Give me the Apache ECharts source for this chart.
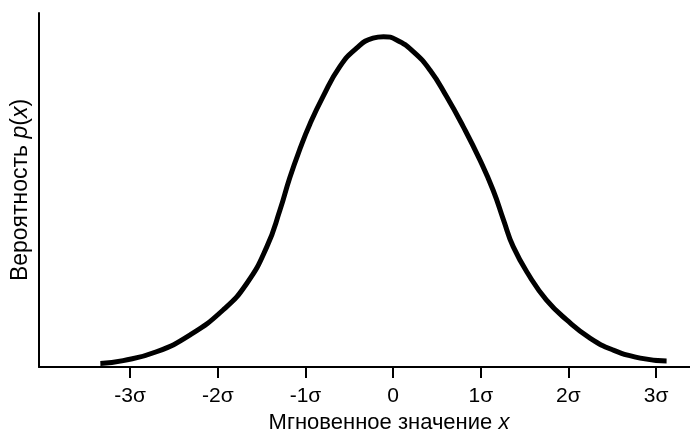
<!DOCTYPE html>
<html>
<head>
<meta charset="utf-8">
<script src="https://cdn.jsdelivr.net/npm/echarts@6/dist/echarts.min.js"></script>
<style>
html,body{margin:0;padding:0;background:#fff;}
#chart{width:690px;height:433px;}
</style>
</head>
<body>
<div id="chart"></div>
<script>
// x in units of sigma, y as relative probability (0..100 of axis height)
var xValues = [-3.34, -3.08, -2.70, -2.32, -1.94, -1.67, -1.44, -1.29, -1.18, -1.06, -0.95, -0.80, -0.61, -0.42, -0.23, -0.11,
               0.04, 0.23, 0.42, 0.61, 0.80, 0.99, 1.14, 1.26, 1.37, 1.56, 1.75, 1.98, 2.25, 2.51, 2.82, 3.12];
var yValues = [1.0, 1.8, 4.3, 9.0, 16.1, 23.6, 34.0, 44.4, 53.4, 61.8, 68.6, 76.4, 84.8, 90.0, 92.9, 93.3,
               92.4, 89.1, 83.9, 76.4, 67.9, 58.5, 50.0, 41.5, 34.0, 25.5, 18.9, 13.3, 8.1, 4.8, 2.5, 1.7];
var tickValues = [-3, -2, -1, 0, 1, 2, 3];
var tickLabels = ['-3σ', '-2σ', '-1σ', '0', '1σ', '2σ', '3σ'];

var seriesData = xValues.map(function (x, i) { return [x, yValues[i]]; });

var chart = echarts.init(document.getElementById('chart'));
var font = '"Liberation Sans", Arial, sans-serif';
chart.setOption({
  animation: false,
  backgroundColor: '#fff',
  grid: { left: 39, right: 0, top: 13, bottom: 66, containLabel: false, outerBoundsMode: 'none' },
  xAxis: {
    type: 'value',
    min: -4.04,
    max: 3.387,
    splitLine: { show: false },
    axisLine: { show: true, onZero: false, lineStyle: { color: '#000', width: 2 } },
    axisTick: { show: true, customValues: tickValues, length: 11, lineStyle: { color: '#000', width: 2 } },
    axisLabel: {
      customValues: tickValues,
      margin: 19,
      color: '#000',
      fontSize: 21,
      fontFamily: font,
      formatter: function (v) {
        var idx = tickValues.indexOf(Math.round(v));
        return idx >= 0 ? tickLabels[idx] : '';
      }
    },
    name: 'Мгновенное значение {i|x}',
    nameLocation: 'middle',
    nameGap: 44,
    nameTextStyle: {
      color: '#000', fontSize: 22, fontFamily: font, padding: [0, 0, 0, 49],
      rich: { i: { fontStyle: 'italic', fontSize: 22, fontFamily: font, color: '#000' } }
    }
  },
  yAxis: {
    type: 'value',
    min: 0,
    max: 100,
    splitLine: { show: false },
    axisLine: { show: true, onZero: false, lineStyle: { color: '#000', width: 2 } },
    axisTick: { show: false },
    axisLabel: { show: false },
    name: 'Вероятность {i|p}({i|x})',
    nameLocation: 'middle',
    nameGap: 7,
    nameRotate: 90,
    nameTextStyle: {
      color: '#000', fontSize: 23, fontFamily: font,
      rich: { i: { fontStyle: 'italic', fontSize: 23, fontFamily: font, color: '#000' } }
    }
  },
  series: [{
    type: 'line',
    data: seriesData,
    smooth: 0.5,
    symbol: 'none',
    lineStyle: { color: '#000', width: 5 }
  }]
});
</script>
</body>
</html>
